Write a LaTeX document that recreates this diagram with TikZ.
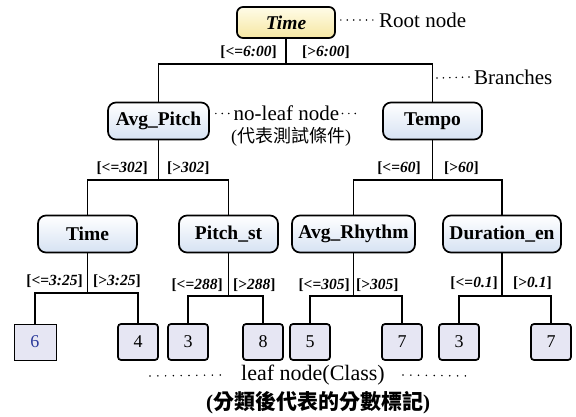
\documentclass[tikz,border=0pt]{standalone}
\usepackage{fontspec}
\setmainfont{Liberation Serif}
\newfontfamily\cjk{Noto Sans CJK TC}
\definecolor{nodeblue}{HTML}{D6E2F3}
\definecolor{rootlight}{HTML}{FFFCE8}
\definecolor{rootdeep}{HTML}{F6E7A2}
\definecolor{leaffill}{HTML}{E6E6F3}
\definecolor{sixblue}{HTML}{2B3A9A}
\tikzset{
  edge/.style={line width=1.7pt, line join=miter},
  inner/.style={draw, line width=1.7pt, rounded corners=8pt, top color=white,
    bottom color=nodeblue, minimum height=37pt, inner sep=0pt,
    font=\fontsize{19.5}{22}\selectfont\bfseries},
  rootbox/.style={draw, line width=1.7pt, rounded corners=6pt, top color=rootlight,
    bottom color=rootdeep, minimum width=98pt, minimum height=31pt, inner sep=0pt,
    font=\fontsize{19.5}{22}\selectfont\bfseries\itshape},
  leaf/.style={draw, line width=1.7pt, rounded corners=3pt, fill=leaffill,
    minimum width=40pt, minimum height=36pt, inner sep=0pt,
    font=\fontsize{18}{20}\selectfont},
  cond/.style={font=\fontsize{15.5}{17}\selectfont\bfseries, inner sep=0pt},
  anno/.style={font=\fontsize{21}{24}\selectfont, inner sep=0pt},
  leader/.style={line width=1.7pt, line cap=round, dash pattern=on 0pt off 6.4pt},
  wideleader/.style={leader, dash pattern=on 0pt off 7.8pt},
}
\newcommand{\condle}[1]{[<=\textit{#1}]}
\newcommand{\condgt}[1]{[>\textit{#1}]}
\begin{document}
\begin{tikzpicture}[x=1pt,y=-1pt]
\useasboundingbox (0,0) rectangle (576,417);

% ---- nodes
\node[rootbox] (root) at (286,22.5) {Time};

\node[inner, minimum width=101pt] (pitch) at (158.5,121) {Avg\_Pitch};
\node[inner, minimum width=99pt]  (tempo) at (432.5,121) {Tempo};

\node[inner, minimum width=99pt]  (time2)  at (87.5,234)  {Time};
\node[inner, minimum width=99pt]  (pst)    at (228.5,234) {Pitch\_st};
\node[inner, minimum width=123pt] (rhythm) at (353.5,234) {Avg\_Rhythm};
\node[inner, minimum width=118pt] (dur)    at (502,234)   {Duration\_en};

\node[leaf, rounded corners=0pt, line width=0.8pt, minimum width=42pt,
      text=sixblue] (l1) at (35,342) {6};
\node[leaf] (l2) at (138,342) {4};
\node[leaf] (l3) at (188,342) {3};
\node[leaf] (l4) at (263,342) {8};
\node[leaf] (l5) at (310,342) {5};
\node[leaf] (l6) at (402,342) {7};
\node[leaf] (l7) at (459,342) {3};
\node[leaf] (l8) at (551,342) {7};

% ---- junction points of the branches
\coordinate (j0) at (286,64);
\coordinate (j1) at (158.5,180);
\coordinate (j2) at (432.5,180);
\coordinate (j3) at (87.5,293);
\coordinate (j4) at (228.5,296);
\coordinate (j5) at (353.5,296);
\coordinate (j6) at (502,296);

% ---- branches
\draw[edge] (root) -- (j0);
\draw[edge] (pitch.north) |- (j0) -| (tempo.north);
\draw[edge] (pitch) -- (j1);
\draw[edge] (time2.north) |- (j1) -| (pst.north);
\draw[edge] (tempo) -- (j2);
\draw[edge] (rhythm.north) |- (j2) -| (dur.north);
\draw[edge] (time2) -- (j3);
\draw[edge] (l1.north) |- (j3) -| (l2.north);
\draw[edge] (pst) -- (j4);
\draw[edge] (l3.north) |- (j4) -| (l4.north);
\draw[edge] (rhythm) -- (j5);
\draw[edge] (l5.north) |- (j5) -| (l6.north);
\draw[edge] (dur) -- (j6);
\draw[edge] (l7.north) |- (j6) -| (l8.north);

% ---- split conditions
\node[cond, anchor=east] at (277,52) {\condle{6:00}};
\node[cond, anchor=west] at (302,52) {\condgt{6:00}};
\node[cond, anchor=east] at (148,168) {\condle{302}};
\node[cond, anchor=west] at (167,168) {\condgt{302}};
\node[cond, anchor=east] at (421,168) {\condle{60}};
\node[cond, anchor=west] at (444,168) {\condgt{60}};
\node[cond, anchor=east] at (83,281) {\condle{3:25}};
\node[cond, anchor=west] at (93,281) {\condgt{3:25}};
\node[cond, anchor=east] at (223,285) {\condle{288}};
\node[cond, anchor=west] at (233,285) {\condgt{288}};
\node[cond, anchor=east] at (350,285) {\condle{305}};
\node[cond, anchor=west] at (356,285) {\condgt{305}};
\node[cond, anchor=east] at (498,283) {\condle{0.1}};
\node[cond, anchor=west] at (513,283) {\condgt{0.1}};

% ---- annotations
\node[anno, anchor=west] (rootnote) at (379,20) {Root node};
\draw[leader] ([xshift=5pt]root.east |- rootnote) -- ([xshift=-3pt]rootnote.west);

\node[anno, anchor=west] (brnote) at (474,77) {Branches};
\coordinate (brdot) at (437,78);
\draw[leader] (brdot) -- ([xshift=-3pt]brnote.west);

\node[anno] (noleaf) at (286.5,113.5) {no-leaf node};
\draw[leader] ([xshift=6pt]pitch.east |- noleaf) -- ([xshift=-3pt]noleaf.west);
\coordinate (nldot) at (357,113.5);
\draw[leader] ([xshift=3pt]noleaf.east) -- (nldot);
\node[font=\fontsize{18}{20}\selectfont, inner sep=0pt] (testcond) at (291,137)
  {(\cjk 代表測試條件\normalfont)};

\node[anno, font=\fontsize{22}{24}\selectfont] (leafnote) at (313,375) {leaf node(Class)};
\coordinate (ldotl) at (150,376);
\coordinate (ldotr) at (469,376);
\draw[wideleader] (ldotl) -- ([xshift=-20pt]leafnote.west);
\draw[wideleader] ([xshift=18pt]leafnote.east) -- (ldotr);
\node[font=\fontsize{21}{24}\selectfont\bfseries, inner sep=0pt] (classnote) at (318,403)
  {({\cjk\bfseries 分類後代表的分數標記})};
\end{tikzpicture}
\end{document}
